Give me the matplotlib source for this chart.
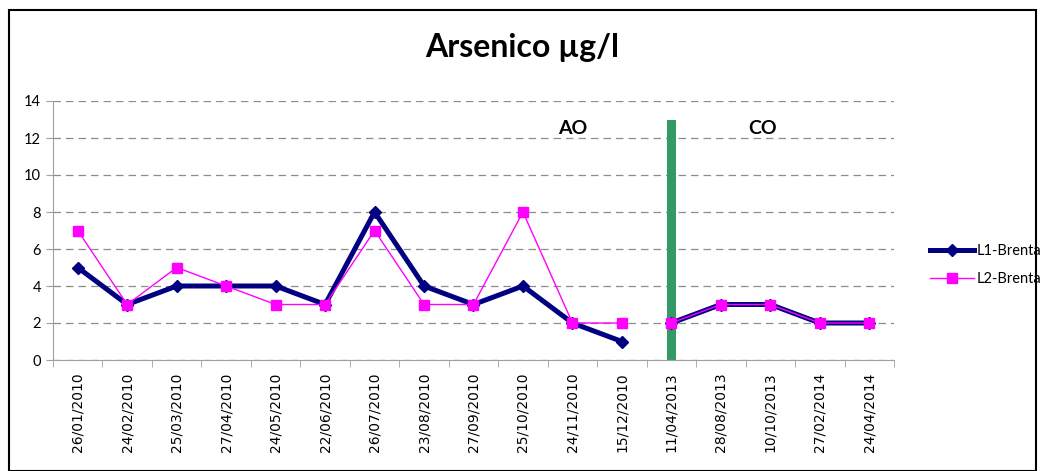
import numpy as np
import matplotlib
matplotlib.use("Agg")
import matplotlib.pyplot as plt
from matplotlib.patches import Rectangle
from matplotlib.lines import Line2D

# data
dates = ["26/01/2010", "24/02/2010", "25/03/2010", "27/04/2010", "24/05/2010",
         "22/06/2010", "26/07/2010", "23/08/2010", "27/09/2010", "25/10/2010",
         "24/11/2010", "15/12/2010", "11/04/2013", "28/08/2013", "10/10/2013",
         "27/02/2014", "24/04/2014"]
l1_brenta = [5, 3, 4, 4, 4, 3, 8, 4, 3, 4, 2, 1, 2, 3, 3, 2, 2]
l2_brenta = [7, 3, 5, 4, 3, 3, 7, 3, 3, 8, 2, 2, 2, 3, 3, 2, 2]
split = 12          # first CO sample (lines are not joined across it)
split_top = 13      # height of the green separator
yticks = [0, 2, 4, 6, 8, 10, 12, 14]

navy = "#000080"
pink = "#FF00FF"
green = "#339966"

fig = plt.figure(figsize=(10.45, 4.71), dpi=100)
ax = fig.add_axes([53 / 1045, 1 - 360 / 471, (894 - 53) / 1045, (360 - 101) / 471])

x = np.arange(len(dates))
for seg in (slice(0, split), slice(split, len(dates))):
    ax.plot(x[seg], l1_brenta[seg], color=navy, lw=3.6, marker="D", ms=6,
            zorder=3)
    ax.plot(x[seg], l2_brenta[seg], color=pink, lw=1.0, marker="s", ms=7,
            zorder=4)

# green separator between the two periods
ax.bar(split, split_top, width=0.17, color=green, zorder=2)

ax.text(10, 12.5, "AO", fontsize=14, fontweight="bold", family="Lato",
        ha="center", va="center")
ax.text(13.85, 12.5, "CO", fontsize=14, fontweight="bold", family="Lato",
        ha="center", va="center")

ax.set_xlim(-0.5, len(dates) - 0.5)
ax.set_ylim(0, 14)
ax.set_yticks(yticks)
ax.yaxis.grid(True, ls=(0, (6, 4)), color="#8c8c8c", lw=0.9)
ax.set_axisbelow(True)

ax.set_xticks(x)
ax.set_xticklabels(dates, rotation=90, fontsize=10, family="DejaVu Sans")
ax.set_xticks(np.arange(-0.5, len(dates)), minor=True)
ax.tick_params(axis="x", which="major", length=0, pad=9)
ax.tick_params(axis="x", which="minor", length=5, color="#a0a0a0")
ax.tick_params(axis="y", length=5, color="#a0a0a0", labelsize=10.5)
for lab in ax.get_yticklabels():
    lab.set_family("Lato")

for s in ("top", "right"):
    ax.spines[s].set_visible(False)
for s in ("left", "bottom"):
    ax.spines[s].set_color("#a0a0a0")

fig.text(0.5, 1 - 48 / 471, "Arsenico µg/l", fontsize=23, fontweight="bold",
         family="Lato", ha="center", va="center")

handles = [Line2D([], [], color=navy, lw=3.6, marker="D", ms=6),
           Line2D([], [], color=pink, lw=1.0, marker="s", ms=7)]
fig.legend(handles, ["L1-Brenta", "L2-Brenta"], loc="center left",
           bbox_to_anchor=(917 / 1045, 1 - 265 / 471), frameon=False,
           prop={"family": "Lato", "size": 10.5}, handlelength=3,
           handletextpad=0.2, labelspacing=1.0)

fig.patches.append(Rectangle((9 / 1045, 0), 1027 / 1045, 1 - 10 / 471,
                             transform=fig.transFigure, fill=False,
                             edgecolor="black", lw=1.5))

fig.savefig("out.png", dpi=100)
